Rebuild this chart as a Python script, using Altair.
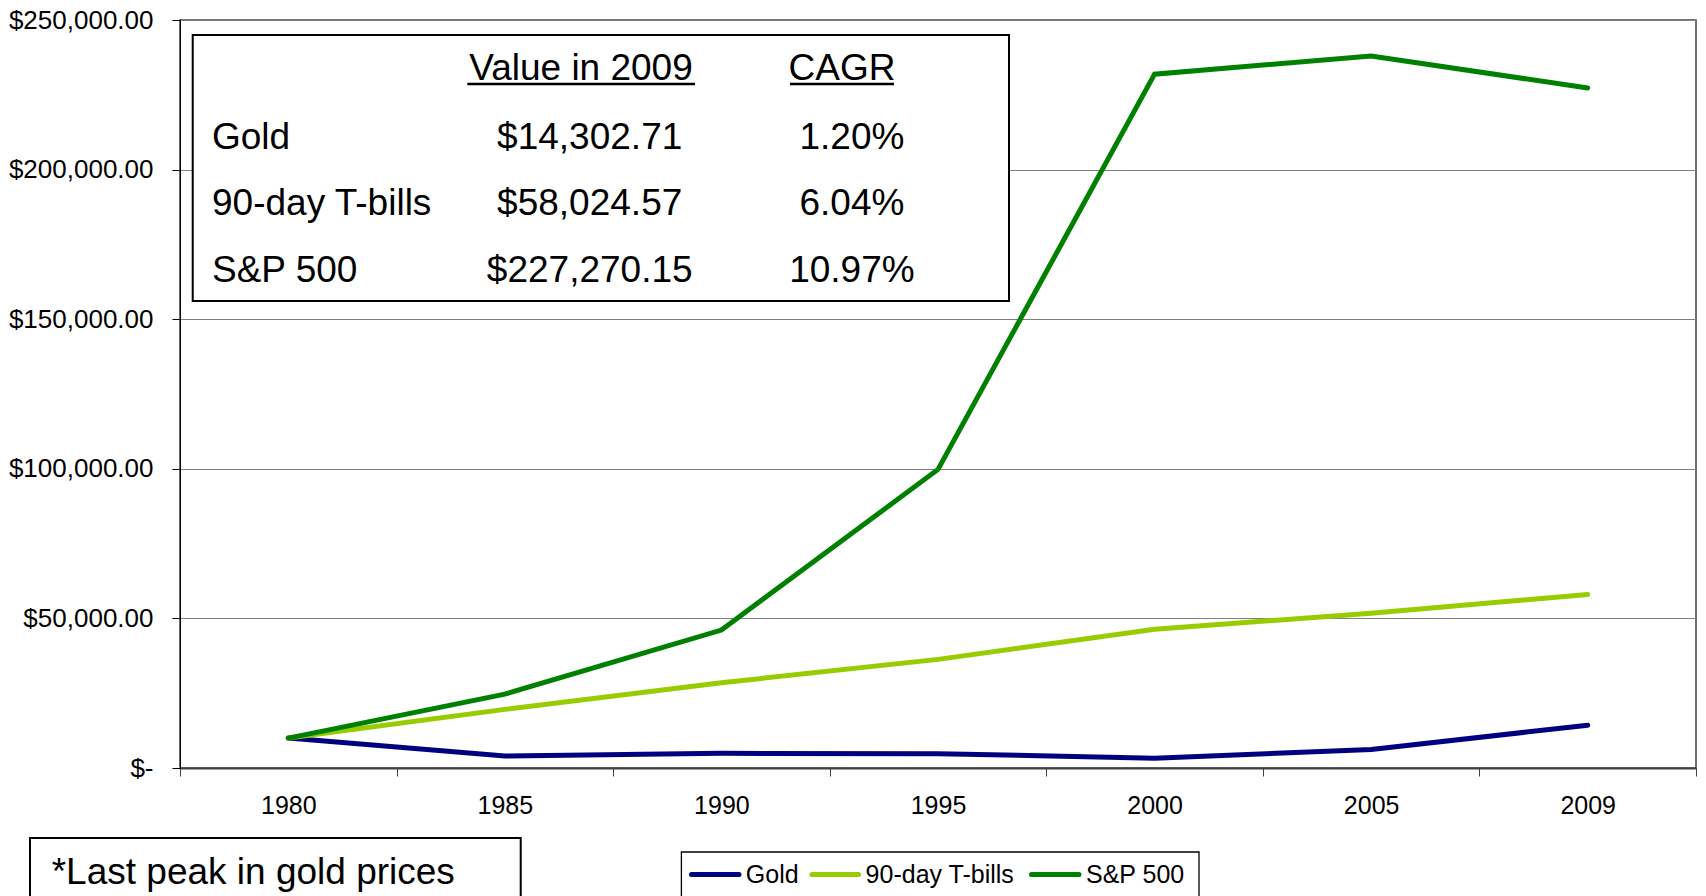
import altair as alt
import pandas as pd

# ---------------- data ----------------
years = ["1980", "1985", "1990", "1995", "2000", "2005", "2009"]
series_names = ["Gold", "90-day T-bills", "S&P 500"]
gold = [10000, 4000, 4900, 4800, 3300, 6200, 14302.71]
tbills = [10000, 19600, 28500, 36300, 46400, 51700, 58024.57]
sp500 = [10000, 24700, 46100, 99800, 231900, 238000, 227270.15]
cagr = [0.0120, 0.0604, 0.1097]
y_ticks = [0, 50000, 100000, 150000, 200000, 250000]
colors = ["#000080", "#99CC00", "#008000"]
table_headers = ["Value in 2009", "CAGR"]
footnote = "*Last peak in gold prices"

FONT = "Liberation Sans"
all_series = [gold, tbills, sp500]

rows = []
for k, (name, vals) in enumerate(zip(series_names, all_series)):
    for yr, v in zip(years, vals):
        rows.append({"series": name, "year": yr, "value": v, "k": k})
df = pd.DataFrame(rows)

final_values = [vals[-1] for vals in all_series]

zero_label = "'$-" + "\u00a0" * 4 + "'"
y_label_expr = "datum.value == 0 ? " + zero_label + " : '$' + format(datum.value, ',.2f')"

color_scale = alt.Scale(domain=series_names, range=colors)

lines = alt.Chart(df).mark_line(strokeWidth=5, strokeCap="round").encode(
    x=alt.X(
        "year:O",
        sort=years,
        bandPosition=0.5,
        scale=alt.Scale(type="band", paddingInner=0, paddingOuter=0),
        axis=alt.Axis(
            title=None, labelAngle=0, tickBand="extent", tickSize=8,
            tickColor="#404040", tickWidth=1, domainColor="#404040",
            domainWidth=2, labelFontSize=25, labelPadding=17, labelFont=FONT,
            labelColor="black", grid=False,
        ),
    ),
    y=alt.Y(
        "value:Q",
        scale=alt.Scale(domain=[0, 250000], nice=False, zero=True),
        axis=alt.Axis(
            title=None, values=y_ticks, labelExpr=y_label_expr, tickSize=8,
            tickColor="black", domainColor="black", domainWidth=1,
            gridColor="#808080", gridWidth=1, labelFontSize=26,
            labelPadding=19, labelFont=FONT, labelColor="black",
        ),
    ),
    color=alt.Color("series:N", sort=series_names, scale=color_scale, legend=None),
    detail="k:N",
)

one = pd.DataFrame({"k": [0]})

table_box = alt.Chart(one).mark_rect(fill="white", stroke="black", strokeWidth=2).encode(
    x=alt.value(12.7), x2=alt.value(829), y=alt.value(15), y2=alt.value(281)
)

layers = [lines, table_box]


def txt(s, x, y, align, size=37):
    return alt.Chart(pd.DataFrame({"t": [s]})).mark_text(
        align=align, baseline="middle", font=FONT, fontSize=size, color="black"
    ).encode(text="t:N", x=alt.value(x), y=alt.value(y))


# table header
layers.append(txt(table_headers[0], 401, 48.8, "center"))
layers.append(txt(table_headers[1], 662, 48.8, "center"))
underline = alt.Chart(one).mark_rule(color="black", strokeWidth=2.7)
layers.append(underline.encode(x=alt.value(287.3), x2=alt.value(515), y=alt.value(64)))
layers.append(underline.encode(x=alt.value(610), x2=alt.value(714), y=alt.value(64)))

# table rows
for i, name in enumerate(series_names):
    ty = 117.5 + 66.5 * i
    layers.append(txt(name, 32, ty, "left"))
    layers.append(
        alt.Chart(pd.DataFrame({"v": [final_values[i]]})).mark_text(
            align="center", baseline="middle", font=FONT, fontSize=37, color="black"
        ).encode(text=alt.Text("v:Q", format="$,.2f"), x=alt.value(409.7), y=alt.value(ty))
    )
    layers.append(
        alt.Chart(pd.DataFrame({"c": [cagr[i]]})).mark_text(
            align="center", baseline="middle", font=FONT, fontSize=37, color="black"
        ).encode(text=alt.Text("c:Q", format=".2%"), x=alt.value(671.9), y=alt.value(ty))
    )

# footnote box
foot_box = alt.Chart(one).mark_rect(fill="white", stroke="black", strokeWidth=2).encode(
    x=alt.value(-150), x2=alt.value(340.7), y=alt.value(818), y2=alt.value(920)
)
layers.append(foot_box)
layers.append(txt(footnote, -128.3, 853.2, "left"))

# legend (box, line swatches, labels)
legend_box = alt.Chart(one).mark_rect(fill="white", stroke="black", strokeWidth=1.3).encode(
    x=alt.value(501.4), x2=alt.value(1019), y=alt.value(832), y2=alt.value(920)
)
layers.append(legend_box)
legend_line_x = [(511.5, 559), (632, 678.5), (851.5, 899)]
legend_text_x = [565.8, 685.6, 906]
for i, name in enumerate(series_names):
    sw = alt.Chart(pd.DataFrame({"series": [name]})).mark_rule(
        strokeWidth=5, strokeCap="round"
    ).encode(
        x=alt.value(legend_line_x[i][0]), x2=alt.value(legend_line_x[i][1]),
        y=alt.value(854.5),
        color=alt.Color("series:N", scale=color_scale, legend=None),
    )
    layers.append(sw)
    layers.append(txt(name, legend_text_x[i], 855, "left", size=25))

chart = alt.layer(*layers).properties(
    width=1516,
    height=748,
    padding={"left": 172, "top": 12, "right": 2, "bottom": 128},
    autosize=alt.AutoSizeParams(type="none"),
    background="white",
).configure_view(stroke="#404040", strokeWidth=1.5)

chart.save("out.html", embed_options={"renderer": "svg", "actions": False})
